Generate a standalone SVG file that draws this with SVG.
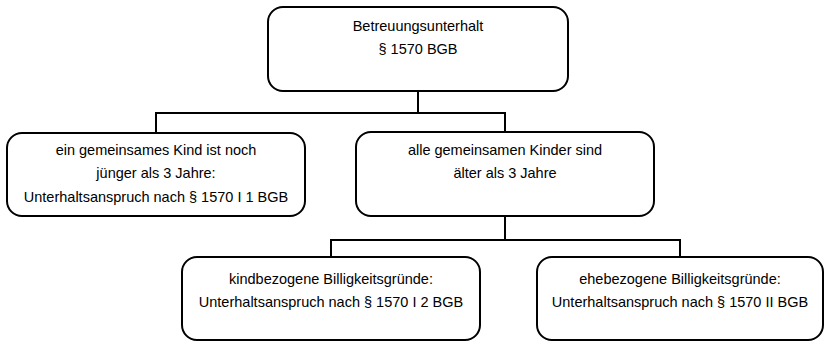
<svg xmlns="http://www.w3.org/2000/svg" width="825" height="342" viewBox="0 0 825 342">
<style>
.box{fill:#fff;stroke:#000;stroke-width:2}
.t{font-family:"Liberation Sans",Arial,sans-serif;font-size:14.5px;fill:#000;text-anchor:middle}
.c{fill:none;stroke:#000;stroke-width:2}
</style>
<rect width="825" height="342" fill="#fff"/>
<g id="connectors">
<polyline class="c" points="418,91 418,113"/>
<polyline class="c" points="156,133 156,113 505,113 505,132"/>
<polyline class="c" points="505,216 505,240"/>
<polyline class="c" points="331,257 331,240 680,240 680,257"/>
</g>
<g id="n1">
<rect class="box" x="268" y="7" width="300" height="84" rx="15"/>
<text class="t" x="418" y="31">Betreuungsunterhalt</text>
<text class="t" x="418" y="54">§ 1570 BGB</text>
</g>
<g id="n2">
<rect class="box" x="7" y="133" width="298" height="83" rx="15"/>
<text class="t" x="156" y="155">ein gemeinsames Kind ist noch</text>
<text class="t" x="156" y="178">jünger als 3 Jahre:</text>
<text class="t" x="156" y="202">Unterhaltsanspruch nach § 1570 I 1 BGB</text>
</g>
<g id="n3">
<rect class="box" x="356" y="132" width="298" height="84" rx="15"/>
<text class="t" x="505" y="155">alle gemeinsamen Kinder sind</text>
<text class="t" x="505" y="178">älter als 3 Jahre</text>
</g>
<g id="n4">
<rect class="box" x="182" y="257" width="298" height="83" rx="15"/>
<text class="t" x="331" y="284">kindbezogene Billigkeitsgründe:</text>
<text class="t" x="331" y="307">Unterhaltsanspruch nach § 1570 I 2 BGB</text>
</g>
<g id="n5">
<rect class="box" x="537" y="257" width="286" height="83" rx="15"/>
<text class="t" x="680" y="284">ehebezogene Billigkeitsgründe:</text>
<text class="t" x="680" y="307">Unterhaltsanspruch nach § 1570 II BGB</text>
</g>
</svg>
